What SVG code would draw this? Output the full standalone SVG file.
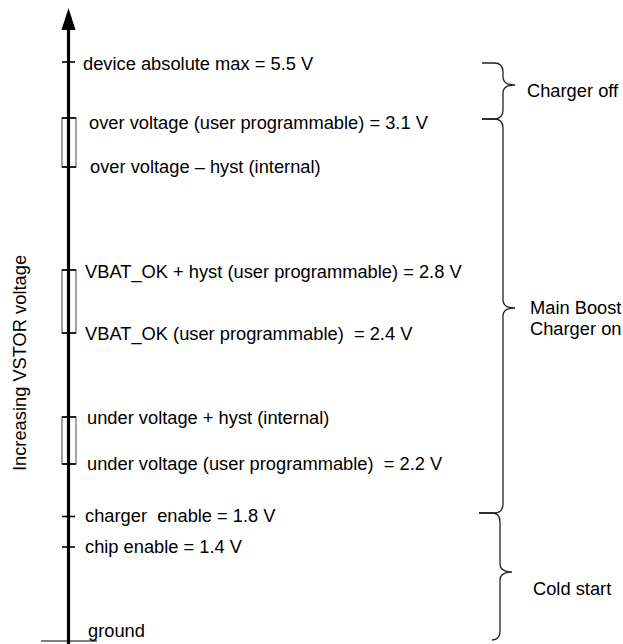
<svg xmlns="http://www.w3.org/2000/svg" width="623" height="644" viewBox="0 0 623 644">
<style>
text{font-family:"Liberation Sans",Arial,sans-serif;font-size:18.3px;fill:#000;white-space:pre}
.tick{stroke:#000;stroke-width:1.6;fill:none}
.band{stroke:#666;stroke-width:1.2;fill:#fff}
.brace{stroke:#222;stroke-width:1.3;fill:none}
</style>
<rect width="623" height="644" fill="#fff"/>
<g id="connectors">
<line x1="68.5" y1="28" x2="68.5" y2="644" stroke="#000" stroke-width="3.2"/>
<polygon points="68.5,8 61.5,30 75.5,30" fill="#000"/>
<line x1="41" y1="641" x2="97" y2="641" stroke="#000" stroke-width="1.2"/>
</g>
<g id="axis-label"><text transform="translate(26,363) rotate(-90)" text-anchor="middle">Increasing VSTOR voltage</text></g>
<g id="abs-max">
<line class="tick" x1="62" y1="62" x2="75" y2="62"/>
<text x="83" y="69.5">device absolute max = 5.5 V</text>
</g>
<g id="over-voltage">
<rect class="band" x="62" y="118" width="14" height="49"/>
<line x1="68.5" y1="117" x2="68.5" y2="168" stroke="#000" stroke-width="3.2"/>
<line class="tick" x1="62" y1="118" x2="76" y2="118"/>
<line class="tick" x1="62" y1="167" x2="76" y2="167"/>
<text x="89" y="128.5">over voltage (user programmable) = 3.1 V</text>
<text x="90" y="173">over voltage – hyst (internal)</text>
</g>
<g id="vbat-ok">
<rect class="band" x="62" y="270" width="14" height="63"/>
<line x1="68.5" y1="269" x2="68.5" y2="334" stroke="#000" stroke-width="3.2"/>
<line class="tick" x1="62" y1="270" x2="76" y2="270"/>
<line class="tick" x1="62" y1="333" x2="76" y2="333"/>
<text x="85" y="278">VBAT_OK + hyst (user programmable) = 2.8 V</text>
<text x="85" y="339.5" xml:space="preserve">VBAT_OK (user programmable)  = 2.4 V</text>
</g>
<g id="under-voltage">
<rect class="band" x="62" y="417" width="14" height="47"/>
<line x1="68.5" y1="416" x2="68.5" y2="465" stroke="#000" stroke-width="3.2"/>
<line class="tick" x1="62" y1="417" x2="76" y2="417"/>
<line class="tick" x1="62" y1="464" x2="76" y2="464"/>
<text x="87" y="423.5">under voltage + hyst (internal)</text>
<text x="87" y="470" xml:space="preserve">under voltage (user programmable)  = 2.2 V</text>
</g>
<g id="charger-enable">
<line class="tick" x1="62" y1="516.5" x2="75" y2="516.5"/>
<text x="85" y="522" xml:space="preserve">charger  enable = 1.8 V</text>
</g>
<g id="chip-enable">
<line class="tick" x1="62" y1="547" x2="75" y2="547"/>
<text x="85" y="553">chip enable = 1.4 V</text>
</g>
<g id="ground"><text x="88" y="637">ground</text></g>
<g id="charger-off">
<path class="brace" d="M482,63 L494,63 Q503,63 503,72 L503,77 Q503,85 515,85 Q503,85 503,93 L503,110 Q503,119 494,119 L482,119"/>
<text x="527" y="96.5">Charger off</text>
</g>
<g id="main-boost">
<path class="brace" d="M482,119 L494,119 Q503,119 503,128 L503,300 Q503,308 515,308 Q503,308 503,316 L503,504 Q503,513 494,513 L479,513"/>
<text x="530" y="313.5">Main Boost</text>
<text x="530" y="334.5">Charger on</text>
</g>
<g id="cold-start">
<path class="brace" d="M479,513 L492,513 Q500,513 500,522 L500,564 Q500,572 512,572 Q500,572 500,580 L500,631 Q500,640 492,640"/>
<text x="533" y="595">Cold start</text>
</g>
</svg>
